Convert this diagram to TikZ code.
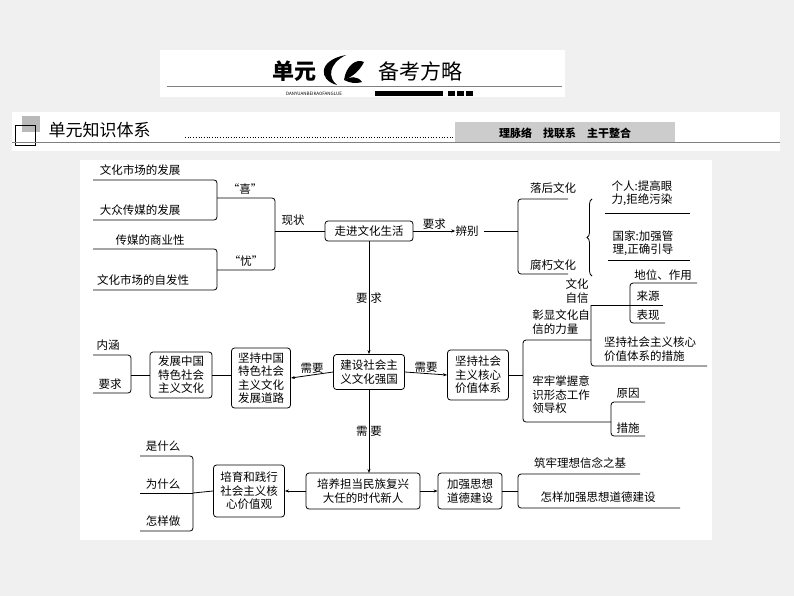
\documentclass[tikz,border=0pt]{standalone}
\usepackage{fontspec}
\setmainfont{Noto Sans CJK SC}
\usetikzlibrary{arrows.meta,decorations.pathreplacing}
\begin{document}
\begin{tikzpicture}[x=1pt,y=-1pt,
  bx/.style={draw,rounded corners=3pt,line width=0.8pt,align=center,inner sep=2pt,font=\fontsize{11.5}{13.5}\selectfont},
  tx/.style={align=left,inner sep=0pt,font=\fontsize{11.5}{13.5}\selectfont},
  ln/.style={line width=0.8pt,rounded corners=3pt},
  ar/.style={line width=0.8pt,-{Stealth[length=4pt,width=3pt]}}]
\useasboundingbox (0,0) rectangle (794,596);
\fill[gray!12] (0,0) rectangle (794,596);
% header
\fill[white] (160,50) rectangle (565,97);
\draw[gray,line width=1pt] (167,87) -- (562,87);
\node[font=\fontsize{22}{24}\selectfont\bfseries] (t1) at (294,71) {单元};
\fill (337,85) .. controls (318,80) and (318,60) .. (346,55) .. controls (328,64) and (328,78) .. (337,85);
\fill (344,80) .. controls (346,66) and (356,58) .. (364,62) .. controls (360,70) and (354,76) .. (344,80);
\fill (344,80) .. controls (350,76) and (358,76) .. (362,82) .. controls (356,84) and (350,83) .. (344,80);
\node[font=\fontsize{21}{23}\selectfont] (t2) at (420,71) {备考方略};
\node[font=\fontsize{4.5}{5}\selectfont\itshape] (t3) at (314,94) {DANYUANBEIKAOFANGLUE};
\fill (375,91) rectangle (443,96);
\fill (448,91) rectangle (455,96);\fill (457,91) rectangle (464,96);\fill (466,91) rectangle (473,96);
% band
\fill[white] (12,112) rectangle (780,151);
\fill[gray!55] (22,116) rectangle (40,132);
\draw[line width=1pt] (15,126) rectangle (35,146);
\node[anchor=west,font=\fontsize{17}{19}\selectfont] (k1) at (45,130) {单元知识体系};
\draw[dotted,line width=0.7pt] (185,137) -- (455,137);
\fill[gray!40] (455,122) rectangle (675,143);
\node[font=\fontsize{11}{13}\selectfont\bfseries] (k2) at (565,133) {理脉络\quad 找联系\quad 主干整合};
\draw[gray,line width=1pt] (12,143) -- (780,143);
% chart area
\fill[white] (80,160) rectangle (712,540);
% top-left
\node[tx] (a1) at (140,170) {文化市场的发展};
\node[tx] (a2) at (140,210) {大众传媒的发展};
\node[tx] (a3) at (150,240) {传媒的商业性};
\node[tx] (a4) at (143,280) {文化市场的自发性};
\draw[ln] (93,180) -- (217,180) -- (217,220) -- (93,220);
\draw[ln] (93,249) -- (217,249) -- (217,290) -- (93,290);
\draw[ln] (217,198) -- (275,198) -- (275,270) -- (217,270);
\node[tx] (x1) at (245,189) {“喜”};
\node[tx] (x2) at (246,261) {“忧”};
\node[tx] (x3) at (293,220) {现状};
\node[bx,minimum width=88pt,minimum height=20pt] (b1) at (369,231) {走进文化生活};
\draw[ln] (275,231) -- (b1.west);
\node[tx] (c1) at (467,231) {辨别};
\draw[ar] (b1.east) -- (c1.west) node[midway,above=1pt,tx] (c0) {要求};
\draw[ln] (c1.east)++(5,0) -- (518,231);
\draw[ln] (568,199) -- (518,199) -- (518,274) -- (568,274);
\node[tx] (c2) at (553,188) {落后文化};
\node[tx] (c3) at (553,265) {腐朽文化};
\draw[decorate,decoration={brace,amplitude=5pt,mirror},line width=0.8pt] (592,199) -- (592,276) node[midway] (br) {};
\node[tx] (c4) at (642,193) {个人:提高眼\\力,拒绝污染};
\draw[line width=0.8pt] (605,213) -- (690,213);
\node[tx] (c5) at (643,243) {国家:加强管\\理,正确引导};
\draw[line width=0.8pt] (608,260) -- (690,260);
% center
\node[bx,minimum width=71pt,minimum height=35pt] (b2) at (369,372) {建设社会主\\义文化强国};
\draw[ar] (b1.south) -- (b2.north) node[midway,tx] (r1) {要\ 求};
% left
\node[bx,minimum width=59pt,minimum height=60pt] (b3) at (261,378) {坚持中国\\特色社会\\主义文化\\发展道路};
\draw[ar] (b2.west) -- (b3.east) node[midway,above=1pt,tx] (l1) {需要};
\node[bx,minimum width=62pt,minimum height=46pt] (b4) at (181,375) {发展中国\\特色社会\\主义文化};
\draw[ln] (b4.east |- 0,375) -- (b3.west |- 0,375);
\node[tx] (d1) at (108,345) {内涵};
\node[tx] (d2) at (110,384) {要求};
\draw[ln] (93,355) -- (131,355) -- (131,393) -- (93,393);
\draw[ln] (131,375) -- (b4.west);
% right
\node[bx,minimum width=61pt,minimum height=50pt] (b5) at (478,375) {坚持社会\\主义核心\\价值体系};
\draw[ar] (b2.east) -- (b5.west) node[midway,above=1pt,tx] (m1) {需要};
\draw[ln] (b5.east) -- (523,375);
\draw[ln] (591,340) -- (523,340) -- (523,422) -- (611,422);
\node[tx] (e1) at (561,322) {彰显文化自\\信的力量};
\node[tx] (e2) at (577,291) {文化\\自信};
\node[tx] (e3) at (663,275) {地位、作用};
\node[tx] (e4) at (648,296) {来源};
\node[tx] (e5) at (648,315) {表现};
\draw[ln] (697,283) -- (630,283) -- (630,323) -- (665,323);
\draw[line width=0.8pt] (591,305) -- (663,305);
\draw[ln] (591,305) -- (591,366) -- (707,366);
\node[tx] (e6) at (650,349) {坚持社会主义核心\\价值体系的措施};
\node[tx] (e7) at (561,395) {牢牢掌握意\\识形态工作\\领导权};
\draw[ln] (645,402) -- (611,402) -- (611,436) -- (645,436);
\node[tx] (e8) at (628,393) {原因};
\node[tx] (e9) at (628,428) {措施};
% bottom
\node[bx,minimum width=114pt,minimum height=36pt] (b6) at (363,491) {培养担当民族复兴\\大任的时代新人};
\coordinate (v6) at (369,473);
\draw[ar] (b2.south) -- (v6) node[midway,tx] (n1) {需\ 要};
\node[bx,minimum width=71pt,minimum height=52pt] (b7) at (249,491) {培育和践行\\社会主义核\\心价值观};
\draw[ar] (b6.west) -- (b7.east);
\draw[ln] (b7.west) -- (193,493);
\draw[ln] (140,456) -- (193,456) -- (193,531) -- (140,531);
\draw[line width=0.8pt] (140,493) -- (193,493);
\node[tx] (f1) at (163,446) {是什么};
\node[tx] (f2) at (163,484) {为什么};
\node[tx] (f3) at (163,521) {怎样做};
\node[bx,minimum width=64pt,minimum height=36pt] (b8) at (470,491) {加强思想\\道德建设};
\draw[ar] (b6.east) -- (b8.west);
\draw[ln] (b8.east) -- (518,491);
\draw[ln] (640,474) -- (518,474) -- (518,508) -- (680,508);
\node[tx] (g1) at (580,463) {筑牢理想信念之基};
\node[tx] (g2) at (598,497) {怎样加强思想道德建设};
\end{tikzpicture}
\end{document}
